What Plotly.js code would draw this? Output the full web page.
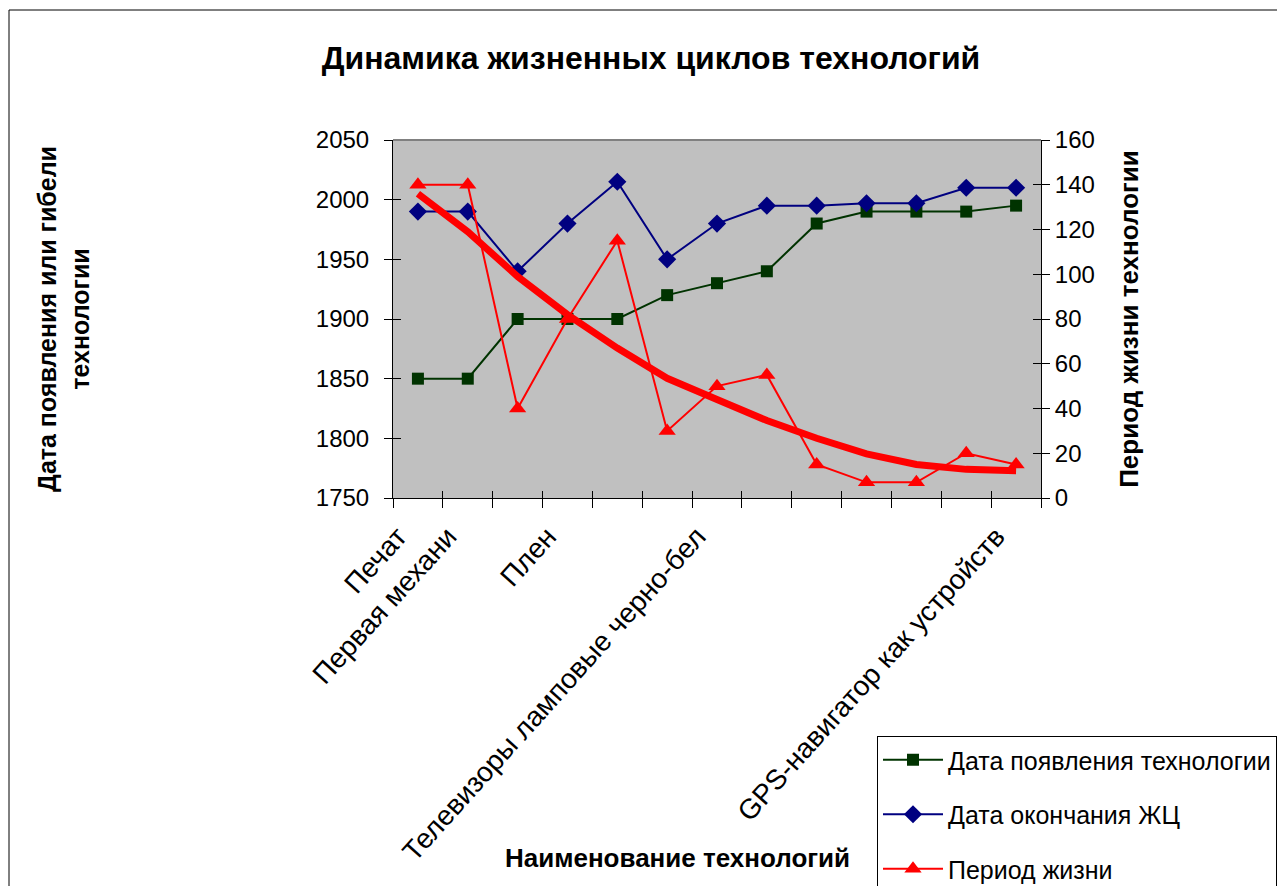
<!DOCTYPE html>
<html>
<head>
<meta charset="utf-8">
<script src="https://cdn.plot.ly/plotly-3.0.1.min.js"></script>
<style>
html,body{margin:0;padding:0;overflow:hidden;background:#fff;}
#chart{width:1277px;height:886px;}
</style>
</head>
<body>
<div id="chart"></div>
<script>
// ---- data ----
const techLabels = ["Печат", "Первая механи", "", "Плен", "", "", "Телевизоры ламповые черно-бел", "", "", "", "", "", "GPS-навигатор как устройств"];
const appearYear = [1850, 1850, 1900, 1900, 1900, 1920, 1930, 1940, 1980, 1990, 1990, 1990, 1995];
const endYear    = [1990, 1990, 1940, 1980, 2015, 1950, 1980, 1995, 1995, 1997, 1997, 2010, 2010];
const lifePeriod = [140, 140, 40, 80, 115, 30, 50, 55, 15, 7, 7, 20, 15];
const lifeTrend  = [136, 119, 99, 82, 67, 53.5, 44, 34.6, 26.7, 19.7, 15, 12.8, 12.2];
const yearTicks  = [1750, 1800, 1850, 1900, 1950, 2000, 2050];
const periodTicks = [0, 20, 40, 60, 80, 100, 120, 140, 160];
const seriesNames = ["Дата появления технологии", "Дата окончания ЖЦ", "Период жизни"];

// ---- chart ----
const FONT = "Arial, 'Liberation Sans', sans-serif";
const xPos = techLabels.map((_, i) => i);
const labelShift = -0.4; // rotated labels sit slightly left of the category centre in the original
const labelPos = xPos.map(v => v + labelShift);
const xBounds = techLabels.map((_, i) => i - 0.5).concat([techLabels.length - 0.5]);
const xRange = [-0.5, techLabels.length - 0.5];
const yRange = [1750, 2050];
const y2Range = [0, 160];

const traces = [
  {
    x: xPos, y: appearYear, name: seriesNames[0], type: "scatter", mode: "lines+markers",
    line: {color: "#003300", width: 2}, marker: {symbol: "square", size: 12, color: "#003300"},
    legendgroup: "g1", hoverinfo: "y"
  },
  {
    x: xPos, y: endYear, name: seriesNames[1], type: "scatter", mode: "lines+markers",
    line: {color: "#000080", width: 2}, marker: {symbol: "diamond", size: 14, color: "#000080"},
    legendgroup: "g2", hoverinfo: "y"
  },
  {
    x: xPos, y: lifeTrend, name: "trend", type: "scatter", mode: "lines", yaxis: "y2",
    line: {color: "#FF0000", width: 7}, showlegend: false, hoverinfo: "skip"
  },
  {
    x: xPos, y: lifePeriod, name: seriesNames[2], type: "scatter", mode: "lines+markers", yaxis: "y2",
    line: {color: "#FF0000", width: 2}, marker: {symbol: "triangle-up", size: 15, color: "#FF0000"},
    legendgroup: "g3", hoverinfo: "y"
  },
  // empty helpers so the overlay axes (inner halves of the crossing tick marks) get drawn
  {x: [null], y: [null], xaxis: "x2", yaxis: "y", showlegend: false, hoverinfo: "skip", mode: "markers"},
  {x: [null], y: [null], xaxis: "x", yaxis: "y3", showlegend: false, hoverinfo: "skip", mode: "markers"},
  {x: [null], y: [null], xaxis: "x", yaxis: "y4", showlegend: false, hoverinfo: "skip", mode: "markers"}
];

const plotL = 393, plotR = 1041, plotT = 140, plotB = 498, W = 1277, H = 886;
const pw = plotR - plotL, ph = plotB - plotT;
const px = v => (v - plotL) / pw;
const py = v => (plotB - v) / ph;

const innerTickAxis = {
  showticklabels: false, showline: false, showgrid: false, zeroline: false,
  ticks: "inside", ticklen: 8, tickcolor: "#000", tickwidth: 1, fixedrange: true, automargin: false
};

const layout = {
  width: W, height: H,
  margin: {l: plotL, r: W - plotR, t: plotT, b: H - plotB, pad: 0, autoexpand: false},
  paper_bgcolor: "#ffffff",
  plot_bgcolor: "#C0C0C0",
  font: {family: FONT, color: "#000000", size: 24},
  showlegend: true,
  title: {
    text: "<b>Динамика жизненных циклов технологий</b>",
    font: {family: FONT, size: 32, color: "#000"},
    xref: "container", yref: "container",
    x: 651 / W, y: 1 - 58 / H, xanchor: "center", yanchor: "middle"
  },
  xaxis: {
    range: xRange,
    tickmode: "array", tickvals: labelPos, ticktext: techLabels,
    tickangle: -48, ticks: "", ticklabelstandoff: 10,
    tickfont: {family: FONT, size: 28, color: "#000"},
    showline: true, linecolor: "#000", linewidth: 1,
    showgrid: false, zeroline: false, automargin: false, fixedrange: true,
    minor: {tickmode: "array", tickvals: xBounds, ticks: "outside", ticklen: 9, tickcolor: "#000", tickwidth: 1, showgrid: false}
  },
  xaxis2: Object.assign({}, innerTickAxis, {
    overlaying: "x", anchor: "y", side: "bottom", range: xRange,
    tickmode: "array", tickvals: xBounds, ticklen: 7
  }),
  yaxis: {
    range: yRange, tickmode: "array", tickvals: yearTicks,
    ticks: "outside", ticklen: 8, tickcolor: "#000", tickwidth: 1, ticklabelstandoff: 10,
    tickfont: {family: FONT, size: 24, color: "#000"},
    showline: true, linecolor: "#000", linewidth: 1,
    showgrid: false, zeroline: false, automargin: false, fixedrange: true,
    title: {text: "<b>Дата появления или гибели<br>технологии</b>", font: {family: FONT, size: 25, color: "#000"}, standoff: 219}
  },
  yaxis2: {
    overlaying: "y", side: "right",
    range: y2Range, tickmode: "array", tickvals: periodTicks,
    ticks: "outside", ticklen: 8, tickcolor: "#000", tickwidth: 1, ticklabelstandoff: 0,
    tickfont: {family: FONT, size: 24, color: "#000"},
    showline: true, linecolor: "#000", linewidth: 1,
    showgrid: false, zeroline: false, automargin: false, fixedrange: true,
    title: {text: "<b>Период жизни технологии</b>", font: {family: FONT, size: 26, color: "#000"}, standoff: 25}
  },
  yaxis3: Object.assign({}, innerTickAxis, {
    overlaying: "y", anchor: "x", side: "left", range: yRange, tickmode: "array", tickvals: yearTicks
  }),
  yaxis4: Object.assign({}, innerTickAxis, {
    overlaying: "y", anchor: "x", side: "right", range: y2Range, tickmode: "array", tickvals: periodTicks
  }),
  legend: {
    x: px(877), y: py(736), xanchor: "left", yanchor: "top",
    bgcolor: "#ffffff", bordercolor: "#000", borderwidth: 1,
    font: {family: FONT, size: 25, color: "#000"},
    traceorder: "grouped", tracegroupgap: 19, itemwidth: 60
  },
  annotations: [
    {
      text: "<b>Наименование технологий</b>", xref: "paper", yref: "paper",
      x: px(677), y: py(858), xanchor: "center", yanchor: "middle", showarrow: false,
      font: {family: FONT, size: 26, color: "#000"}
    }
  ],
  shapes: [
    {type: "rect", xref: "paper", yref: "paper", x0: px(9), x1: px(1400), y0: py(1000), y1: py(10),
     line: {color: "#000", width: 1}, fillcolor: "rgba(0,0,0,0)", layer: "below"},
    {type: "line", xref: "paper", yref: "paper", x0: 0, x1: 1, y0: 1, y1: 1,
     line: {color: "#808080", width: 2}, layer: "above"}
  ]
};

Plotly.newPlot("chart", traces, layout, {staticPlot: true, displayModeBar: false});
</script>
</body>
</html>
